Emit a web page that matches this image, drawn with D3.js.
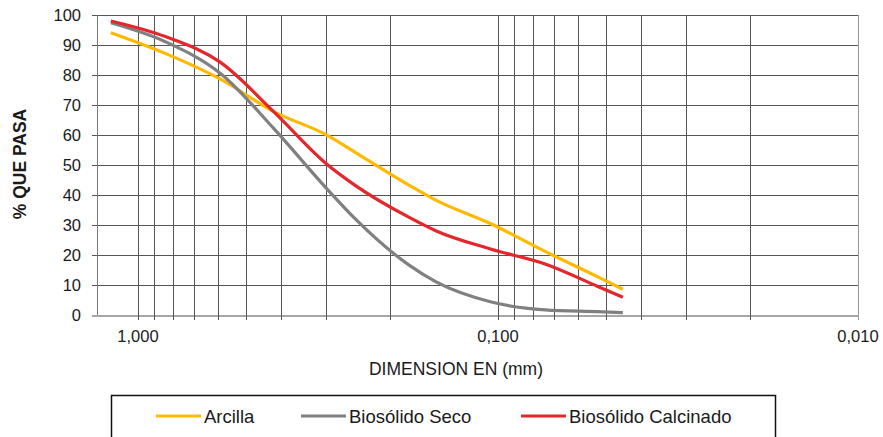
<!DOCTYPE html>
<html>
<head>
<meta charset="utf-8">
<script src="https://cdn.jsdelivr.net/npm/d3@7"></script>
<style>
  body { margin: 0; background: #fff; }
  text { font-family: "Liberation Sans", Arial, sans-serif; fill: #1a1a1a; }
</style>
</head>
<body>
<script>
// sieve sizes (mm) and % passing for each material
const sizes = [1.19, 0.84, 0.59, 0.42, 0.297, 0.25, 0.177, 0.149, 0.105, 0.074, 0.053, 0.045];
const arcilla = [94.1, 87.2, 78.6, 67.8, 59.8, 54.3, 43.3, 38.3, 30.5, 21.2, 12.8, 8.6];
const bioSeco = [97.4, 91.1, 80.5, 62.2, 41.7, 32.2, 16.7, 11.1, 4.4, 1.7, 1.1, 0.8];
const bioCalc = [98.0, 92.8, 84.2, 67.8, 50.0, 43.3, 32.6, 28.1, 22.0, 17.0, 9.6, 5.9];
const seriesNames = ["Arcilla", "Biosólido Seco", "Biosólido Calcinado"];
const seriesColors = ["#ffb900", "#808080", "#e5262b"];
const yTicks = [0, 10, 20, 30, 40, 50, 60, 70, 80, 90, 100];
const xLabels = [1, 0.1, 0.01];
const xGrid = [1, 0.9, 0.8, 0.7, 0.6, 0.5, 0.4, 0.3, 0.2,
               0.1, 0.09, 0.08, 0.07, 0.06, 0.05, 0.04, 0.03, 0.02, 0.01];

const width = 883, height = 437;
const plotL = 97, plotR = 858, plotT = 15, plotB = 315;

let svg = d3.select("body").append("svg")
    .attr("width", width)
    .attr("height", height);

let xScale = d3.scaleLog()
    .domain([1.3, 0.01])
    .range([plotL, plotR]);
let yScale = d3.scaleLinear()
    .domain([0, 100])
    .range([plotB, plotT]);

const crisp = v => Math.round(v) + 0.5;

// gridlines
let grid = svg.append("g").attr("shape-rendering", "crispEdges");
grid.selectAll("line.h")
  .data(yTicks)
  .enter().append("line")
    .attr("x1", plotL - 5).attr("x2", plotR)
    .attr("y1", d => crisp(yScale(d))).attr("y2", d => crisp(yScale(d)))
    .attr("stroke", d => d === 0 ? "#a6a6a6" : "#555")
    .attr("stroke-width", d => d === 0 ? 2 : 1);
grid.selectAll("line.v")
  .data(xGrid)
  .enter().append("line")
    .attr("x1", d => crisp(xScale(d))).attr("x2", d => crisp(xScale(d)))
    .attr("y1", plotT).attr("y2", plotB + 5)
    .attr("stroke", d => d === 0.01 ? "#999" : "#555")
    .attr("stroke-width", d => d === 0.01 ? 1.5 : 1);
// left axis line
grid.append("line")
    .attr("x1", crisp(plotL)).attr("x2", crisp(plotL))
    .attr("y1", plotT).attr("y2", plotB)
    .attr("stroke", "#777");

// y tick labels
svg.append("g").selectAll("text")
  .data(yTicks)
  .enter().append("text")
    .attr("x", 81)
    .attr("y", d => yScale(d) + 6)
    .attr("text-anchor", "end")
    .style("font-size", "16.5px")
    .text(d => d);

// x tick labels
const fmt = d => d3.format(".3f")(d).replace(".", ",");
svg.append("g").selectAll("text")
  .data(xLabels)
  .enter().append("text")
    .attr("x", d => xScale(d))
    .attr("y", 342)
    .attr("text-anchor", "middle")
    .style("font-size", "16.5px")
    .text(fmt);

// axis titles
svg.append("text")
    .attr("x", 456).attr("y", 375)
    .attr("text-anchor", "middle")
    .style("font-size", "17.5px")
    .text("DIMENSION EN (mm)");
svg.append("text")
    .attr("transform", "translate(26,164) rotate(-90)")
    .attr("text-anchor", "middle")
    .style("font-size", "17.5px")
    .style("font-weight", "bold")
    .text("% QUE PASA");

// curves (x pixels grow as size shrinks, so monotone in x works)
let lineGen = d3.line()
    .x((d, i) => xScale(sizes[i]))
    .y(d => yScale(d))
    .curve(d3.curveMonotoneX);

svg.append("g").selectAll("path")
  .data([arcilla, bioSeco, bioCalc])
  .enter().append("path")
    .attr("d", d => lineGen(d))
    .attr("fill", "none")
    .attr("stroke", (d, i) => seriesColors[i])
    .attr("stroke-width", 3.2)
    .attr("stroke-linecap", "butt");

// legend
let legend = svg.append("g");
legend.append("rect")
    .attr("x", 111.5).attr("y", 395.5)
    .attr("width", 664).attr("height", 60)
    .attr("fill", "none")
    .attr("stroke", "#111")
    .attr("stroke-width", 1.5);
const legendX = [156, 301, 521];
let items = legend.selectAll("g.item")
  .data(seriesNames)
  .enter().append("g")
    .attr("transform", (d, i) => `translate(${legendX[i]},416)`);
items.append("line")
    .attr("x1", 0).attr("x2", 45)
    .attr("stroke", (d, i) => seriesColors[i])
    .attr("stroke-width", 3);
items.append("text")
    .attr("x", 48).attr("y", 6.5)
    .style("font-size", "18.5px")
    .text(d => d);
</script>
</body>
</html>
